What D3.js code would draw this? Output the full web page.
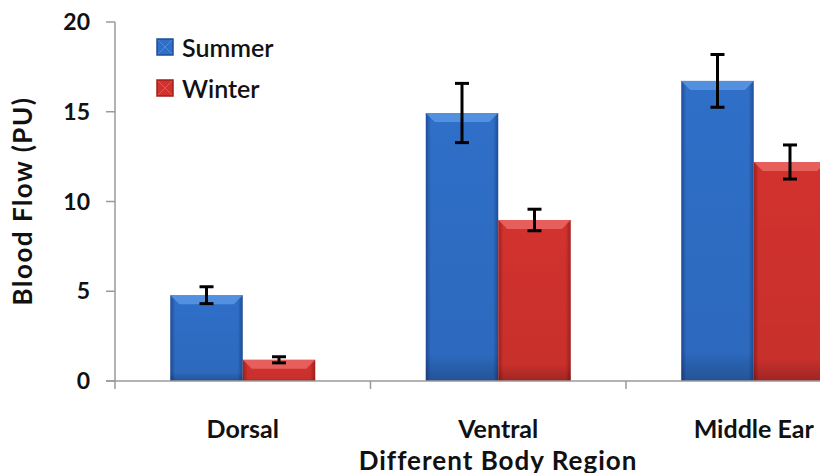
<!DOCTYPE html>
<html>
<head>
<meta charset="utf-8">
<script src="https://cdn.jsdelivr.net/npm/d3@7"></script>
<style>
body { margin: 0; background: #fff; }
svg { display: block; font-family: Lato, "Open Sans", sans-serif; }
</style>
</head>
<body>
<svg width="820" height="473"></svg>
<script>
// chart data
var regions = ["Dorsal", "Ventral", "Middle Ear"]
var seasons = ["Summer", "Winter"]
var summerFlow = [4.78, 14.93, 16.72]
var winterFlow = [1.18, 8.97, 12.2]
var summerErr = [0.47, 1.65, 1.47]
var winterErr = [0.17, 0.6, 0.95]
var yTicks = [0, 5, 10, 15, 20]

var colors = {
	Summer : { mid : "#2f6fc8", edge : "#1f4d98", top : "#5c9ae6" },
	Winter : { mid : "#d2322e", edge : "#a11f1d", top : "#ec6a66" }
}

var svg = d3.select("svg")
var x0 = 115, plotTop = 22, plotBottom = 381

var x = d3.scaleBand().domain(regions).range([x0, 881.5])
		.paddingInner(0.4325).paddingOuter(0.2163)
var xs = d3.scaleBand().domain(seasons).range([0, x.bandwidth()])
var y = d3.scaleLinear().domain([0, 20]).range([plotBottom, plotTop])

var rows = []
regions.forEach(function(r, i) {
	rows.push({ region : r, season : "Summer", v : summerFlow[i], e : summerErr[i] })
	rows.push({ region : r, season : "Winter", v : winterFlow[i], e : winterErr[i] })
})

// gradients for the bevelled bars
var defs = svg.append("defs")
seasons.forEach(function(s) {
	var g = defs.append("linearGradient").attr("id", "grad" + s)
			.attr("x1", "0").attr("x2", "1").attr("y1", "0").attr("y2", "0")
	g.append("stop").attr("offset", "0").attr("stop-color", colors[s].edge)
	g.append("stop").attr("offset", "0.07").attr("stop-color", colors[s].mid)
	g.append("stop").attr("offset", "0.93").attr("stop-color", colors[s].mid)
	g.append("stop").attr("offset", "1").attr("stop-color", colors[s].edge)
	var v = defs.append("linearGradient").attr("id", "shade" + s)
			.attr("x1", "0").attr("x2", "0").attr("y1", "0").attr("y2", "1")
	v.append("stop").attr("offset", "0").attr("stop-color", "#000").attr("stop-opacity", 0)
	v.append("stop").attr("offset", "0.9").attr("stop-color", "#000").attr("stop-opacity", 0.05)
	v.append("stop").attr("offset", "1").attr("stop-color", "#000").attr("stop-opacity", 0.25)
})

// axes lines
var axisColor = "#9a9a9a"
svg.append("line").attr("x1", x0).attr("x2", x0).attr("y1", plotTop)
		.attr("y2", plotBottom + 8).attr("stroke", axisColor).attr("stroke-width", 1.5)
svg.selectAll(".ytick").data(yTicks).enter().append("line")
		.attr("x1", x0 - 9).attr("x2", x0)
		.attr("y1", function(d) { return y(d) }).attr("y2", function(d) { return y(d) })
		.attr("stroke", axisColor).attr("stroke-width", 1.5)
svg.selectAll(".ylab").data(yTicks).enter().append("text")
		.attr("x", 90).attr("y", function(d) { return y(d) + 8 })
		.attr("text-anchor", "end").attr("font-size", 23).attr("font-weight", "bold")
		.attr("fill", "#111").text(function(d) { return d })

// bars
var bars = svg.append("g").selectAll("g").data(rows).enter().append("g")
		.attr("transform", function(d) { return "translate(" + (x(d.region) + xs(d.season)) + ",0)" })
bars.append("rect").attr("x", 0).attr("width", xs.bandwidth())
		.attr("y", function(d) { return y(d.v) })
		.attr("height", function(d) { return y(0) - y(d.v) })
		.attr("fill", function(d) { return "url(#grad" + d.season + ")" })
bars.append("rect").attr("x", 0).attr("width", xs.bandwidth())
		.attr("y", function(d) { return y(d.v) })
		.attr("height", function(d) { return y(0) - y(d.v) })
		.attr("fill", function(d) { return "url(#shade" + d.season + ")" })
bars.append("path").attr("d", function(d) {
	var w = xs.bandwidth(), t = y(d.v), b = 9
	return "M0," + t + "L" + w + "," + t + "L" + (w - b) + "," + (t + b) + "L" + b + "," + (t + b) + "Z"
}).attr("fill", function(d) { return colors[d.season].top }).attr("opacity", 0.8)

// error bars
var eb = bars.append("g").attr("stroke", "#000").attr("stroke-width", 3)
eb.append("line").attr("x1", xs.bandwidth() / 2).attr("x2", xs.bandwidth() / 2)
		.attr("y1", function(d) { return y(d.v + d.e) })
		.attr("y2", function(d) { return y(d.v - d.e) })
eb.append("line").attr("x1", xs.bandwidth() / 2 - 7).attr("x2", xs.bandwidth() / 2 + 7)
		.attr("y1", function(d) { return y(d.v + d.e) })
		.attr("y2", function(d) { return y(d.v + d.e) })
eb.append("line").attr("x1", xs.bandwidth() / 2 - 7).attr("x2", xs.bandwidth() / 2 + 7)
		.attr("y1", function(d) { return y(d.v - d.e) })
		.attr("y2", function(d) { return y(d.v - d.e) })

// x axis drawn over the bars
svg.append("line").attr("x1", x0 - 9).attr("x2", 820).attr("y1", plotBottom)
		.attr("y2", plotBottom).attr("stroke", axisColor).attr("stroke-width", 1.5)
var bounds = regions.map(function(r, i) { return x0 + i * x.step() }).slice(1)
bounds.push(x0 + regions.length * x.step())
svg.selectAll(".xtick").data(bounds).enter().append("line")
		.attr("x1", function(d) { return d }).attr("x2", function(d) { return d })
		.attr("y1", plotBottom).attr("y2", plotBottom + 8)
		.attr("stroke", axisColor).attr("stroke-width", 1.5)
svg.selectAll(".xlab").data(regions).enter().append("text")
		.attr("x", function(d) { return x(d) + x.bandwidth() / 2 }).attr("y", 438)
		.attr("text-anchor", "middle").attr("font-size", 25).attr("font-weight", "bold")
		.attr("fill", "#111").text(function(d) { return d })

// axis titles
svg.append("text").attr("x", 498).attr("y", 470).attr("text-anchor", "middle")
		.attr("font-size", 26).attr("letter-spacing", 1).attr("font-weight", "bold")
		.attr("fill", "#111").text("Different Body Region")
svg.append("text").attr("transform", "translate(32,201) rotate(-90)")
		.attr("text-anchor", "middle").attr("font-size", 26).attr("letter-spacing", 1.5)
		.attr("font-weight", "bold").attr("fill", "#111").text("Blood Flow (PU)")

// legend
var leg = svg.append("g").selectAll("g").data(seasons).enter().append("g")
		.attr("transform", function(d, i) { return "translate(157," + (39 + i * 41) + ")" })
leg.append("rect").attr("width", 16).attr("height", 16)
		.attr("fill", function(d) { return colors[d].mid })
		.attr("stroke", function(d) { return colors[d].edge }).attr("stroke-width", 1.5)
leg.append("path").attr("d", "M1,1L15,15M15,1L1,15")
		.attr("stroke", function(d) { return colors[d].top }).attr("stroke-width", 1).attr("opacity", 0.7)
leg.append("text").attr("x", 25).attr("y", 18).attr("font-size", 25)
		.attr("font-weight", 600).attr("fill", "#111").text(function(d) { return d })
</script>
</body>
</html>
